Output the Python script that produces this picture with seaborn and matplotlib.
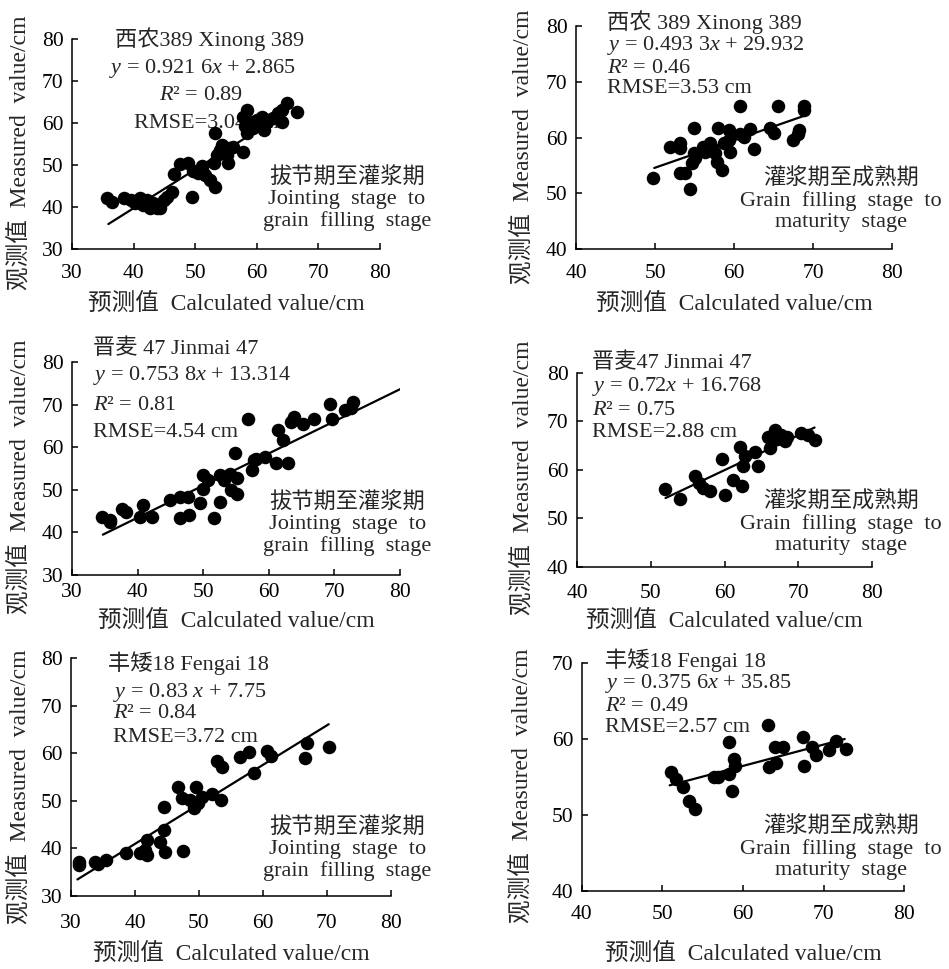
import numpy as np
import seaborn as sns
import matplotlib.pyplot as plt

sns.set_theme(style="ticks")
plt.rcParams["font.family"] = ["Liberation Serif", "Noto Sans CJK SC"]
plt.rcParams["mathtext.fontset"] = "custom"
plt.rcParams["mathtext.rm"] = "Liberation Serif"
plt.rcParams["mathtext.it"] = "Liberation Serif:italic"

# ---- data (calculated vs measured plant height, cm) ----
p1_calc = [35.7, 36.5, 38.4, 39.5, 40.3, 41.1, 41.6, 42.2, 42.7, 43.2, 43.8, 44.3, 44.9, 45.4, 46.2,
           46.5, 47.6, 48.9, 49.5, 49.7, 50.5, 51.1, 51.6, 52.4, 53.2, 53.2, 53.0, 53.5, 54.1, 54.6,
           55.4, 55.7, 56.2, 57.8, 57.8, 58.1, 58.4, 58.4, 59.2, 60.0, 60.8, 61.1, 61.6, 62.7, 63.5,
           64.1, 64.1, 64.9, 66.5, 51.1, 54.4, 55.2, 59.4, 61.8]
p1_meas = [42.1, 41.1, 42.1, 41.7, 40.9, 42.1, 40.5, 41.7, 39.7, 40.9, 39.7, 39.7, 41.7, 42.5, 43.5,
           47.9, 50.2, 50.4, 42.5, 48.5, 48.1, 49.7, 47.7, 46.5, 44.7, 57.6, 50.4, 52.4, 53.6, 54.4,
           50.4, 54.0, 54.4, 53.2, 61.5, 59.2, 63.1, 57.6, 60.3, 60.7, 61.5, 58.4, 60.3, 61.1, 62.3,
           63.1, 60.3, 64.7, 62.7, 48.8, 54.8, 52.4, 58.8, 60.7]

p2_calc = [49.7, 51.9, 53.2, 53.2, 53.1, 53.8, 54.9, 54.4, 54.7, 54.9, 55.1, 56.1, 56.3, 57.0, 57.2,
           57.6, 57.8, 58.0, 58.5, 58.7, 59.3, 59.5, 59.3, 60.7, 60.8, 61.2, 62.0, 62.5, 64.6, 65.1,
           65.6, 67.5, 68.2, 68.1, 68.9, 68.9]
p2_meas = [52.8, 58.4, 59.0, 58.1, 53.6, 53.6, 61.8, 50.7, 55.4, 57.2, 56.3, 58.4, 57.5, 59.0, 58.1,
           57.2, 55.7, 61.8, 54.2, 59.0, 61.3, 57.5, 59.5, 65.6, 60.7, 60.1, 61.6, 57.9, 61.8, 60.9,
           65.6, 59.5, 61.3, 60.7, 65.6, 65.0]

p3_calc = [34.6, 35.8, 35.8, 37.6, 38.3, 40.4, 40.8, 42.2, 45.0, 46.4, 46.4, 47.7, 47.9, 49.5, 50.0,
           50.0, 50.8, 51.7, 52.5, 52.6, 53.1, 54.1, 54.3, 54.8, 55.1, 55.2, 56.9, 57.4, 57.7, 58.1,
           59.4, 61.4, 61.1, 62.2, 62.9, 63.4, 63.9, 65.2, 66.9, 69.3, 69.6, 71.6, 72.6, 72.9]
p3_meas = [43.5, 43.0, 42.5, 45.4, 44.8, 43.5, 46.4, 43.5, 47.7, 48.4, 43.3, 48.4, 44.1, 46.8, 50.3,
           53.4, 52.4, 43.3, 47.2, 53.4, 52.3, 53.8, 49.9, 58.7, 49.1, 52.7, 66.7, 54.6, 57.0, 57.3,
           57.7, 64.0, 56.2, 61.6, 56.2, 65.9, 67.1, 65.4, 66.7, 70.2, 66.7, 68.8, 69.1, 70.6]

p4_calc = [51.9, 54.0, 56.0, 56.5, 57.1, 58.0, 59.6, 60.1, 61.1, 62.1, 62.3, 62.5, 62.8, 64.1, 64.5,
           65.9, 66.2, 66.8, 67.1, 67.7, 68.4, 70.4, 71.3, 72.2, 66.4, 68.2]
p4_meas = [56.1, 54.0, 58.8, 57.3, 56.3, 55.6, 62.3, 54.9, 58.0, 64.7, 56.6, 60.8, 62.8, 63.8, 60.9,
           66.9, 64.5, 68.3, 66.3, 67.3, 66.9, 67.6, 67.3, 66.1, 66.6, 65.9]

p5_calc = [31.2, 31.2, 33.8, 34.3, 35.4, 38.6, 40.8, 41.9, 41.9, 41.6, 43.9, 44.5, 44.6, 44.7, 46.8,
           47.3, 47.5, 48.6, 49.2, 49.6, 49.9, 50.5, 52.0, 52.9, 53.6, 53.4, 56.5, 57.9, 58.6, 60.6,
           61.2, 66.9, 66.6, 70.3]
p5_meas = [37.2, 36.5, 37.2, 36.7, 37.6, 39.0, 39.0, 41.8, 38.6, 39.7, 41.4, 48.8, 43.9, 39.3, 53.0,
           50.5, 39.5, 50.2, 48.4, 53.0, 49.5, 50.9, 51.5, 58.3, 57.2, 50.1, 59.2, 60.2, 55.9, 60.4,
           59.5, 62.1, 59.0, 61.4]

p6_calc = [51.1, 51.7, 52.5, 53.3, 54.0, 56.4, 56.9, 58.2, 58.2, 58.6, 58.9, 59.0, 63.1, 63.2, 63.9,
           64.1, 64.9, 67.4, 67.6, 68.5, 69.1, 70.7, 71.5, 72.8]
p6_meas = [55.7, 54.8, 53.7, 51.9, 50.8, 55.0, 55.0, 59.6, 55.4, 53.2, 57.4, 56.4, 61.8, 56.3, 58.9,
           56.8, 58.9, 60.3, 56.4, 58.9, 57.9, 58.6, 59.8, 58.7]

calc_values = [p1_calc, p2_calc, p3_calc, p4_calc, p5_calc, p6_calc]
meas_values = [p1_meas, p2_meas, p3_meas, p4_meas, p5_meas, p6_meas]

# fitted lines as drawn (slope, intercept, x extent)
fit_slope = [0.9216, 0.4933, 0.7538, 0.72, 0.83, 0.281]
fit_intercept = [2.865, 29.932, 13.314, 16.768, 7.75, 39.6]
fit_range = [(35.9, 64.3), (49.9, 68.9), (34.7, 80.0), (52.0, 72.2), (31.0, 70.3), (50.9, 72.6)]

cultivar_names = ["西农389 Xinong 389", "西农 389 Xinong 389", "晋麦 47 Jinmai 47",
                  "晋麦47 Jinmai 47", "丰矮18 Fengai 18", "丰矮18 Fengai 18"]
equations = [r"$y$ = 0.921 6$x$ + 2.865", r"$y$ = 0.493 3$x$ + 29.932", r"$y$ = 0.753 8$x$ + 13.314",
             r"$y$ = 0.72$x$ + 16.768", r"$y$ = 0.83 $x$ + 7.75", r"$y$ = 0.375 6$x$ + 35.85"]
r2_values = ["0.89", "0.46", "0.81", "0.75", "0.84", "0.49"]
rmse_values = ["3.04", "3.53", "4.54", "2.88", "3.72", "2.57"]
stage_jointing = "拔节期至灌浆期\nJointing  stage  to\ngrain  filling  stage"
stage_filling = "灌浆期至成熟期\nGrain  filling  stage  to\nmaturity  stage"
stage_labels = [stage_jointing, stage_filling] * 3

x_limits = [(30, 80), (40, 80), (30, 80), (40, 80), (30, 80), (40, 80)]
y_limits = [(30, 80), (40, 80), (30, 80), (40, 80), (30, 80), (40, 70)]

# ---- layout (figure fractions) ----
axes_rects = [
    [0.0759, 0.743, 0.3245, 0.2167],
    [0.607, 0.743, 0.333, 0.230],
    [0.0759, 0.4066, 0.3456, 0.2198],
    [0.608, 0.4149, 0.311, 0.2002],
    [0.0748, 0.0753, 0.337, 0.2456],
    [0.613, 0.0805, 0.340, 0.2353],
]
# annotation block: (x of 4 lines, ha, y of 4 lines) in axes fractions
note_pos = [
    ([0.445, 0.425, 0.419, 0.438], "center", [1.0, 0.862, 0.733, 0.60]),
    ([0.098] * 4, "left", [1.018, 0.912, 0.812, 0.722]),
    ([0.064] * 4, "left", [1.061, 0.939, 0.798, 0.671]),
    ([0.051] * 4, "left", [1.052, 0.928, 0.809, 0.691]),
    ([0.116, 0.131, 0.131, 0.131], "left", [0.979, 0.857, 0.765, 0.668]),
    ([0.071] * 4, "left", [1.012, 0.912, 0.807, 0.719]),
]
stage_pos = [(0.893, 0.238), (0.839, 0.220), (0.84, 0.239), (0.895, 0.227), (0.864, 0.197), (0.802, 0.189)]
xlabel_off = [56, 56, 47, 55, 59, 64]   # px below axes
ylabel_off = [52, 53, 52, 54, 51, 59]   # px left of axes
xtick_pad = [11, 11, 6, 12, 13, 10]

fig = plt.figure(figsize=(9.49, 9.69), dpi=100)
fig.patch.set_facecolor("white")

for i in range(6):
    ax = fig.add_axes(axes_rects[i])
    x = np.array(calc_values[i])
    y = np.array(meas_values[i])
    sns.scatterplot(x=x, y=y, ax=ax, color="black", s=95, linewidth=0, zorder=3)

    xs = np.array(fit_range[i])
    sns.lineplot(x=xs, y=fit_slope[i] * xs + fit_intercept[i], ax=ax,
                 color="black", linewidth=1.6, zorder=2)

    ax.set_xlim(*x_limits[i])
    ax.set_ylim(*y_limits[i])
    ax.set_xticks(np.arange(x_limits[i][0], x_limits[i][1] + 1, 10))
    ax.set_yticks(np.arange(y_limits[i][0], y_limits[i][1] + 1, 10))
    ax.set_facecolor("white")
    for side in ["top", "right"]:
        ax.spines[side].set_visible(False)
    for side in ["left", "bottom"]:
        ax.spines[side].set_linewidth(1.1)
        ax.spines[side].set_color("black")
    ax.tick_params(axis="both", direction="in", length=4, width=1.1, colors="black",
                   labelsize=15.5)
    ax.tick_params(axis="x", pad=xtick_pad[i])
    ax.tick_params(axis="y", pad=6)

    w_px = axes_rects[i][2] * 949
    h_px = axes_rects[i][3] * 969
    ax.set_xlabel("预测值  Calculated value/cm", fontsize=17, va="center")
    ax.xaxis.set_label_coords(0.5, -xlabel_off[i] / h_px)
    ax.set_ylabel("观测值  Measured  value/cm", fontsize=17, va="center")
    ax.yaxis.set_label_coords(-ylabel_off[i] / w_px, 0.46)

    xs_note, ha, ys_note = note_pos[i]
    lines = [cultivar_names[i], equations[i], "$R$² = " + r2_values[i],
             "RMSE=" + rmse_values[i] + " cm"]
    for s, fx, fy in zip(lines, xs_note, ys_note):
        ax.text(fx, fy, s, transform=ax.transAxes, ha=ha, va="center",
                fontsize=16, zorder=1)
    ax.text(stage_pos[i][0], stage_pos[i][1], stage_labels[i], transform=ax.transAxes,
            ha="center", va="center", fontsize=16, linespacing=1.12, zorder=1)

fig.savefig("out.png", dpi=100, facecolor="white")
